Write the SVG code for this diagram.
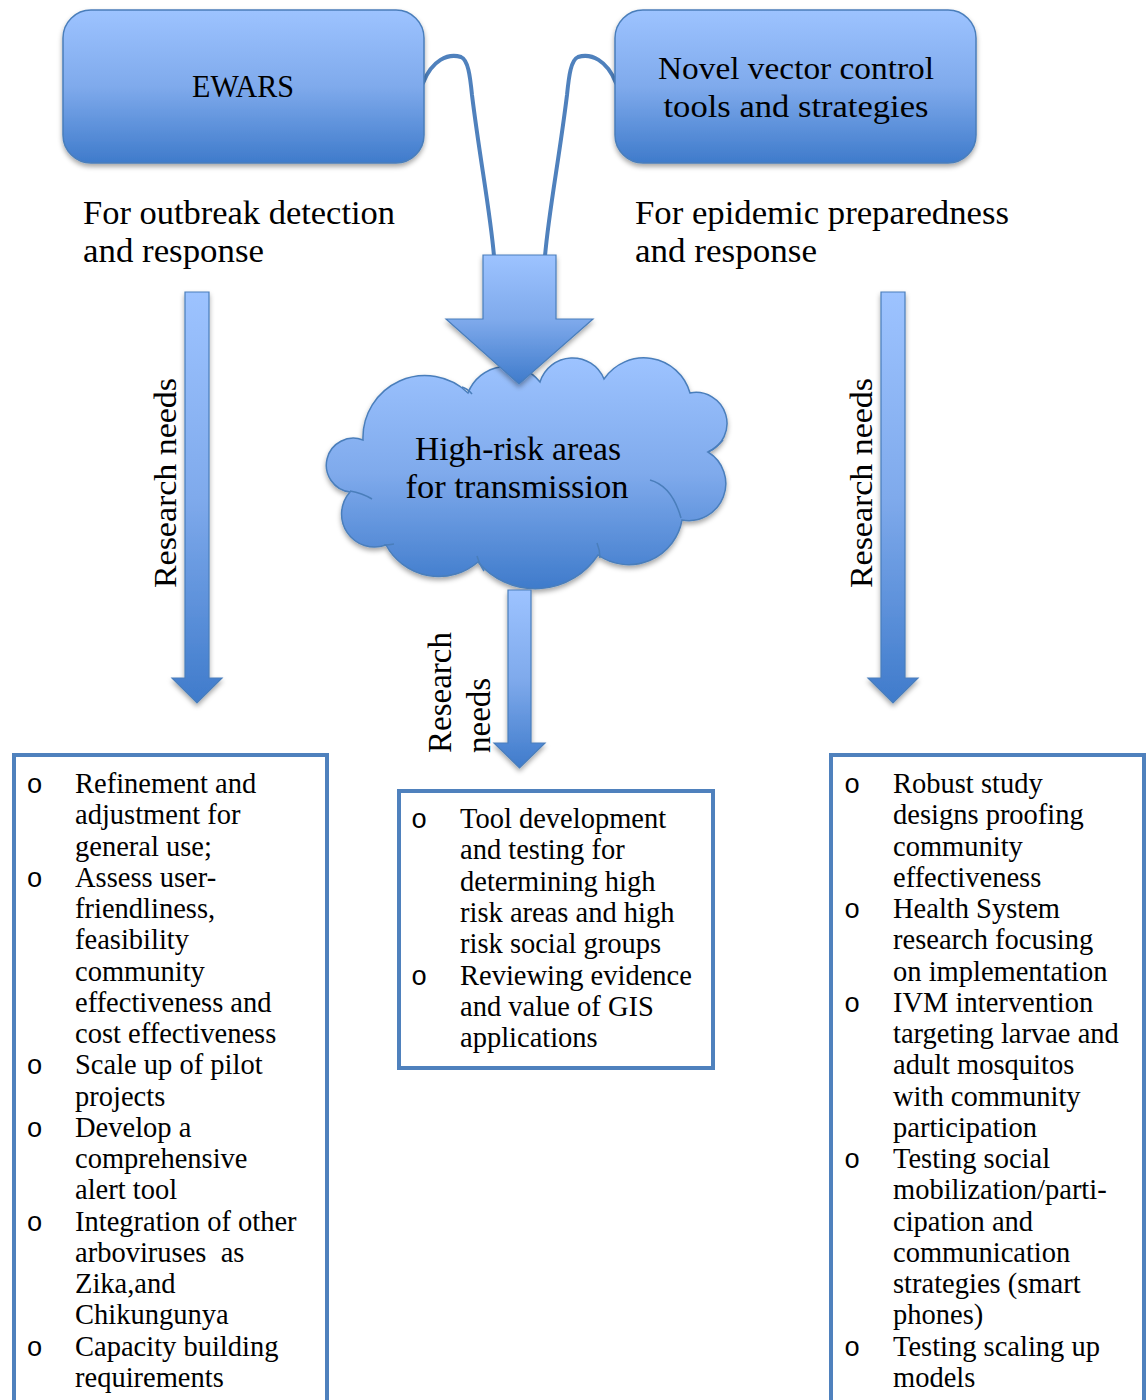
<svg xmlns="http://www.w3.org/2000/svg" width="1148" height="1400" viewBox="0 0 1148 1400">
<defs>
<linearGradient id="g" x1="0" y1="0" x2="0" y2="1">
<stop offset="0" stop-color="#9DC3FF"/>
<stop offset="0.5" stop-color="#7FAAEC"/>
<stop offset="1" stop-color="#3F7BCB"/>
</linearGradient>
<filter id="sh" x="-20%" y="-20%" width="140%" height="140%">
<feDropShadow dx="0" dy="3" stdDeviation="2.5" flood-color="#000" flood-opacity="0.35"/>
</filter>
<style>
.t{font-family:"Liberation Serif","Times New Roman",serif;fill:#000}
.body{font-size:28.5px}
.head{font-size:34px}
.node{fill:url(#g);stroke:#4A7EBB;stroke-width:1.5}
.list{fill:#fff;stroke:#4F81BD;stroke-width:4}
.bul{font-family:"Liberation Mono","Courier New",monospace;font-size:27px;text-anchor:middle}
.curve{fill:none;stroke:#4F81BD;stroke-width:4;stroke-linecap:round}
.inner{fill:none;stroke:#4A7EBB;stroke-width:1.5}
.arr{fill:url(#g);stroke:#4A7EBB;stroke-width:1.2;filter:url(#sh)}
</style>
</defs>
<rect width="1148" height="1400" fill="#fff"/>

<g id="connectors">
<path class="curve" d="M 423 83 C 432 60, 448 53, 461 57 C 468 60, 470 75, 472 95 C 480 160, 490 210, 494 256"/>
<path class="curve" d="M 616 83 C 607 60, 591 53, 578 57 C 571 60, 569 75, 567 95 C 559 160, 549 210, 545 256"/>
</g>

<g id="node-ewars">
<rect class="node" x="63" y="10" width="361" height="153" rx="28" filter="url(#sh)"/>
<text class="t" x="243" y="97" font-size="32" text-anchor="middle" textLength="102" lengthAdjust="spacingAndGlyphs">EWARS</text>
</g>

<g id="node-novel">
<rect class="node" x="615" y="10" width="361" height="153" rx="28" filter="url(#sh)"/>
<text class="t" x="796" y="79" font-size="32" text-anchor="middle" textLength="276" lengthAdjust="spacingAndGlyphs">Novel vector control</text>
<text class="t" x="796" y="117" font-size="32" text-anchor="middle" textLength="265" lengthAdjust="spacingAndGlyphs">tools and strategies</text>
</g>

<g id="label-outbreak">
<text class="t head" x="83" y="224" textLength="312" lengthAdjust="spacingAndGlyphs">For outbreak detection</text>
<text class="t head" x="83" y="262" textLength="181" lengthAdjust="spacingAndGlyphs">and response</text>
</g>

<g id="label-epidemic">
<text class="t head" x="635" y="224" textLength="374" lengthAdjust="spacingAndGlyphs">For epidemic preparedness</text>
<text class="t head" x="635" y="262" textLength="182" lengthAdjust="spacingAndGlyphs">and response</text>
</g>

<g id="node-cloud">
<path class="node" filter="url(#sh)" d="M 363 440 A 62 62 0 0 1 468 393 A 42 42 0 0 1 540 382 A 34 34 0 0 1 604 379 A 48 48 0 0 1 690 393 A 31 31 0 0 1 708 452 A 37 37 0 0 1 682 520 A 54 54 0 0 1 598 555 A 75 75 0 0 1 478 562 A 60 60 0 0 1 386 545 A 33 33 0 0 1 350 492 A 27 27 0 1 1 363 440 Z"/>
<path class="inner" d="M 650 480 Q 672 486 681 518 M 350 491 Q 362 493 372 499 M 708 452 Q 716 448 723 440 M 597 543 Q 600 550 600 558 M 477 556 Q 479 564 484 571 M 384 545 Q 389 545 394 544 M 462 387 Q 468 389 472 394"/>
<text class="t" x="518" y="460" font-size="33" text-anchor="middle" textLength="206" lengthAdjust="spacingAndGlyphs">High-risk areas</text>
<text class="t" x="517" y="498" font-size="33" text-anchor="middle" textLength="223" lengthAdjust="spacingAndGlyphs">for transmission</text>
</g>

<g id="arrows">
<path class="arr" d="M 483 255 H 556 V 319 H 593 L 519 384 L 446 319 H 483 Z"/>
<path class="arr" d="M 185 292 H 209 V 678 H 222 L 197 703 L 172 678 H 185 Z"/>
<path class="arr" d="M 881 292 H 905 V 678 H 918 L 893 703 L 868 678 H 881 Z"/>
<path class="arr" d="M 508 590 H 531 V 743 H 545 L 519.5 768 L 494 743 H 508 Z"/>
<text class="t" font-size="32.5" text-anchor="middle" textLength="210" lengthAdjust="spacingAndGlyphs" transform="translate(175.5 483) rotate(-90)">Research needs</text>
<text class="t" font-size="32.5" text-anchor="middle" textLength="210" lengthAdjust="spacingAndGlyphs" transform="translate(871.5 483) rotate(-90)">Research needs</text>
<text class="t" font-size="33" transform="translate(451 753) rotate(-90)">Research</text>
<text class="t" font-size="33" transform="translate(490 753) rotate(-90)">needs</text>
</g>

<g id="node-left-list">
<rect class="list" x="14" y="755" width="313" height="700"/>
<text class="t bul" x="34.5" y="793">o</text>
<text class="t bul" x="34.5" y="886.75">o</text>
<text class="t bul" x="34.5" y="1074.25">o</text>
<text class="t bul" x="34.5" y="1136.75">o</text>
<text class="t bul" x="34.5" y="1230.5">o</text>
<text class="t bul" x="34.5" y="1355.5">o</text>
<text class="t body" x="75" y="793">Refinement and<tspan x="75" dy="31.25">adjustment for</tspan><tspan x="75" dy="31.25">general use;</tspan><tspan x="75" dy="31.25">Assess user-</tspan><tspan x="75" dy="31.25">friendliness,</tspan><tspan x="75" dy="31.25">feasibility</tspan><tspan x="75" dy="31.25">community</tspan><tspan x="75" dy="31.25">effectiveness and</tspan><tspan x="75" dy="31.25">cost effectiveness</tspan><tspan x="75" dy="31.25">Scale up of pilot</tspan><tspan x="75" dy="31.25">projects</tspan><tspan x="75" dy="31.25">Develop a</tspan><tspan x="75" dy="31.25">comprehensive</tspan><tspan x="75" dy="31.25">alert tool</tspan><tspan x="75" dy="31.25">Integration of other</tspan><tspan x="75" dy="31.25" xml:space="preserve">arboviruses  as</tspan><tspan x="75" dy="31.25">Zika,and</tspan><tspan x="75" dy="31.25">Chikungunya</tspan><tspan x="75" dy="31.25">Capacity building</tspan><tspan x="75" dy="31.25">requirements</tspan></text>
</g>

<g id="node-center-list">
<rect class="list" x="399" y="791" width="314" height="277"/>
<text class="t bul" x="419" y="828">o</text>
<text class="t bul" x="419" y="984.5">o</text>
<text class="t body" x="460" y="828">Tool development<tspan x="460" dy="31.3">and testing for</tspan><tspan x="460" dy="31.3">determining high</tspan><tspan x="460" dy="31.3">risk areas and high</tspan><tspan x="460" dy="31.3">risk social groups</tspan><tspan x="460" dy="31.3">Reviewing evidence</tspan><tspan x="460" dy="31.3">and value of GIS</tspan><tspan x="460" dy="31.3">applications</tspan></text>
</g>

<g id="node-right-list">
<rect class="list" x="831" y="755" width="313" height="700"/>
<text class="t bul" x="852" y="793">o</text>
<text class="t bul" x="852" y="918">o</text>
<text class="t bul" x="852" y="1011.75">o</text>
<text class="t bul" x="852" y="1168">o</text>
<text class="t bul" x="852" y="1355.5">o</text>
<text class="t body" x="893" y="793">Robust study<tspan x="893" dy="31.25">designs proofing</tspan><tspan x="893" dy="31.25">community</tspan><tspan x="893" dy="31.25">effectiveness</tspan><tspan x="893" dy="31.25">Health System</tspan><tspan x="893" dy="31.25">research focusing</tspan><tspan x="893" dy="31.25">on implementation</tspan><tspan x="893" dy="31.25">IVM intervention</tspan><tspan x="893" dy="31.25">targeting larvae and</tspan><tspan x="893" dy="31.25">adult mosquitos</tspan><tspan x="893" dy="31.25">with community</tspan><tspan x="893" dy="31.25">participation</tspan><tspan x="893" dy="31.25">Testing social</tspan><tspan x="893" dy="31.25">mobilization/parti-</tspan><tspan x="893" dy="31.25">cipation and</tspan><tspan x="893" dy="31.25">communication</tspan><tspan x="893" dy="31.25">strategies (smart</tspan><tspan x="893" dy="31.25">phones)</tspan><tspan x="893" dy="31.25">Testing scaling up</tspan><tspan x="893" dy="31.25">models</tspan></text>
</g>
</svg>
